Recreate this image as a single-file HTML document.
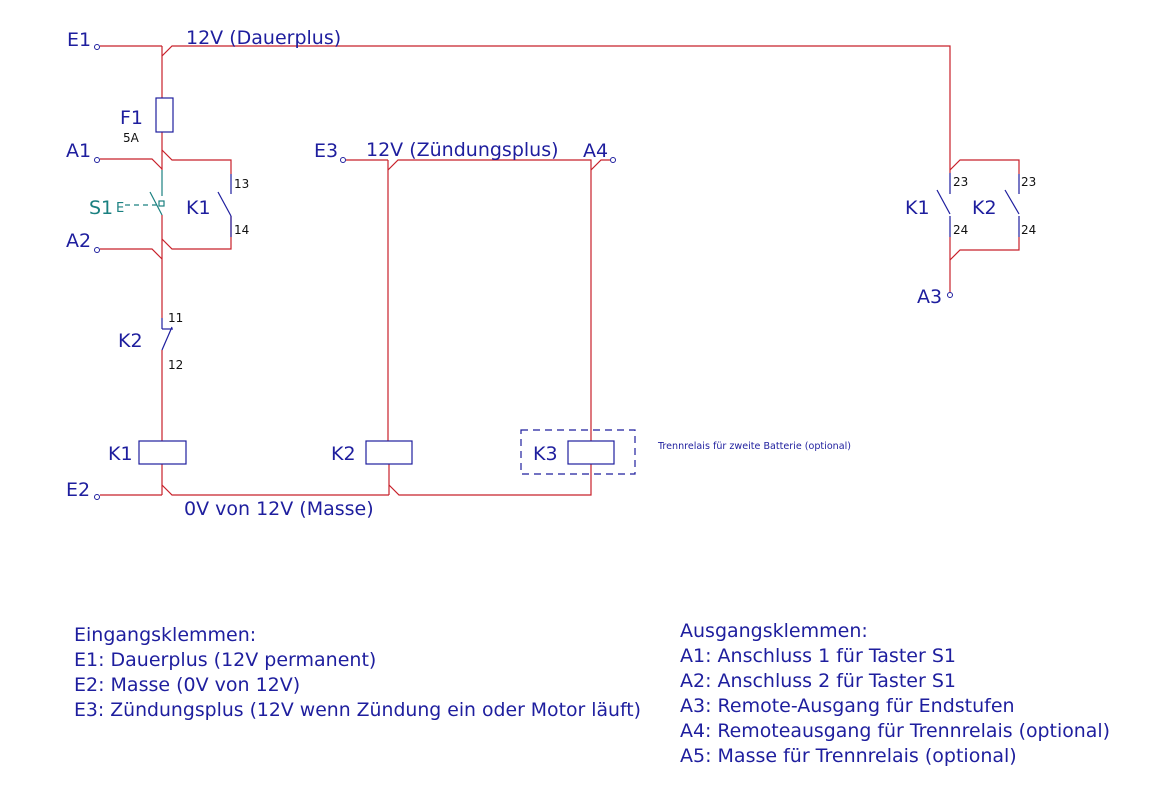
<!DOCTYPE html>
<html><head><meta charset="utf-8"><style>
html,body{margin:0;padding:0;background:#fff;}
svg{display:block;}
text{font-family:"DejaVu Sans","Liberation Sans",sans-serif;fill:#1e1e9e;}
</style></head><body>
<svg width="1152" height="793" viewBox="0 0 1152 793" xmlns="http://www.w3.org/2000/svg">
<g stroke="#c8202a" stroke-width="1.2" fill="none">
<line x1="100" y1="46" x2="162" y2="46"/>
<line x1="162" y1="46" x2="162" y2="98"/>
<polyline points="162,56 172,46 950,46 950,173"/>
<line x1="162" y1="132" x2="162" y2="170"/>
<polyline points="100,159 152,159 162,169"/>
<polyline points="162,150 172,160 231,160 231,174"/>
<polyline points="231,216 231,249 172,249 162,239"/>
<polyline points="100,249 152,249 162,259"/>
<line x1="162" y1="215" x2="162" y2="318"/>
<line x1="162" y1="350" x2="162" y2="441"/>
<line x1="162" y1="464" x2="162" y2="495"/>
<line x1="100" y1="495" x2="162" y2="495"/>
<polyline points="162,485 172,495 389,495"/>
<polyline points="389,485 399,495 591,495 591,464"/>
<line x1="389" y1="464" x2="389" y2="495"/>
<line x1="346" y1="160" x2="388" y2="160"/>
<line x1="388" y1="160" x2="388" y2="441"/>
<polyline points="388,170 398,160 591,160 591,441"/>
<polyline points="591,170 601,160 610,160"/>
<polyline points="950,170 960,160 1019,160 1019,174"/>
<line x1="950" y1="237" x2="950" y2="292"/>
<polyline points="1019,237 1019,250 960,250 950,260"/>
</g>
<g stroke="#1e1e9e" stroke-width="1.2" fill="none">
<rect x="156" y="98" width="17" height="34"/>
<line x1="231" y1="174" x2="231" y2="194"/>
<line x1="218" y1="192" x2="231" y2="216"/>
<line x1="231" y1="216" x2="231" y2="237"/>
<line x1="162" y1="318" x2="162" y2="329"/>
<line x1="162" y1="329" x2="173" y2="329"/>
<line x1="172" y1="327" x2="162" y2="350"/>
<rect x="139" y="441" width="47" height="23"/>
<rect x="366" y="441" width="46" height="23"/>
<rect x="568" y="441" width="46" height="23"/>
<rect x="521" y="430" width="114" height="44" stroke-dasharray="7,5"/>
<line x1="950" y1="173" x2="950" y2="194"/>
<line x1="937" y1="190" x2="950" y2="214"/>
<line x1="950" y1="216" x2="950" y2="237"/>
<line x1="1019" y1="174" x2="1019" y2="194"/>
<line x1="1005" y1="190" x2="1019" y2="214"/>
<line x1="1019" y1="216" x2="1019" y2="237"/>
</g>
<g stroke="#1a8080" stroke-width="1.2" fill="none">
<line x1="162" y1="170" x2="162" y2="196"/>
<line x1="150" y1="192" x2="162" y2="215"/>
<rect x="159" y="201" width="5" height="5"/>
<line x1="125" y1="205" x2="158" y2="205" stroke-dasharray="5,4"/>
</g>
<g stroke="#1e1e9e" stroke-width="1" fill="#fff">
<circle cx="97" cy="47" r="2.5"/>
<circle cx="97" cy="160" r="2.5"/>
<circle cx="97" cy="250" r="2.5"/>
<circle cx="97" cy="497" r="2.5"/>
<circle cx="343" cy="160" r="2.5"/>
<circle cx="613" cy="160" r="2.5"/>
<circle cx="950" cy="295" r="2.5"/>
</g>
<g font-size="19">
<text x="67" y="46">E1</text>
<text x="186" y="44">12V (Dauerplus)</text>
<text x="120" y="124">F1</text>
<text x="66" y="157">A1</text>
<text x="66" y="247">A2</text>
<text x="186" y="214">K1</text>
<text x="118" y="347">K2</text>
<text x="108" y="460">K1</text>
<text x="66" y="496">E2</text>
<text x="184" y="515">0V von 12V (Masse)</text>
<text x="314" y="157">E3</text>
<text x="366" y="156">12V (Zündungsplus)</text>
<text x="583" y="157">A4</text>
<text x="331" y="460">K2</text>
<text x="533" y="460">K3</text>
<text x="905" y="214">K1</text>
<text x="972" y="214">K2</text>
<text x="917" y="303">A3</text>
<text x="89" y="214" style="fill:#1a8080">S1</text>
</g>
<text x="116" y="212" font-size="13" style="fill:#1a8080">E</text>
<g font-size="12">
<text x="123" y="142" style="fill:#111">5A</text>
<text x="234" y="188" style="fill:#111">13</text>
<text x="234" y="234" style="fill:#111">14</text>
<text x="168" y="322" style="fill:#111">11</text>
<text x="168" y="369" style="fill:#111">12</text>
<text x="953" y="186" style="fill:#111">23</text>
<text x="953" y="234" style="fill:#111">24</text>
<text x="1021" y="186" style="fill:#111">23</text>
<text x="1021" y="234" style="fill:#111">24</text>
</g>
<text x="658" y="449" font-size="9.5" textLength="193" lengthAdjust="spacingAndGlyphs">Trennrelais für zweite Batterie (optional)</text>
<g font-size="19">
<text x="74" y="641">Eingangsklemmen:</text>
<text x="74" y="666">E1: Dauerplus (12V permanent)</text>
<text x="74" y="691">E2: Masse (0V von 12V)</text>
<text x="74" y="716" textLength="567" lengthAdjust="spacingAndGlyphs">E3: Zündungsplus (12V wenn Zündung ein oder Motor läuft)</text>
<text x="680" y="637">Ausgangsklemmen:</text>
<text x="680" y="662">A1: Anschluss 1 für Taster S1</text>
<text x="680" y="687">A2: Anschluss 2 für Taster S1</text>
<text x="680" y="712">A3: Remote-Ausgang für Endstufen</text>
<text x="680" y="737" textLength="430" lengthAdjust="spacingAndGlyphs">A4: Remoteausgang für Trennrelais (optional)</text>
<text x="680" y="762">A5: Masse für Trennrelais (optional)</text>
</g>
</svg>
</body></html>
